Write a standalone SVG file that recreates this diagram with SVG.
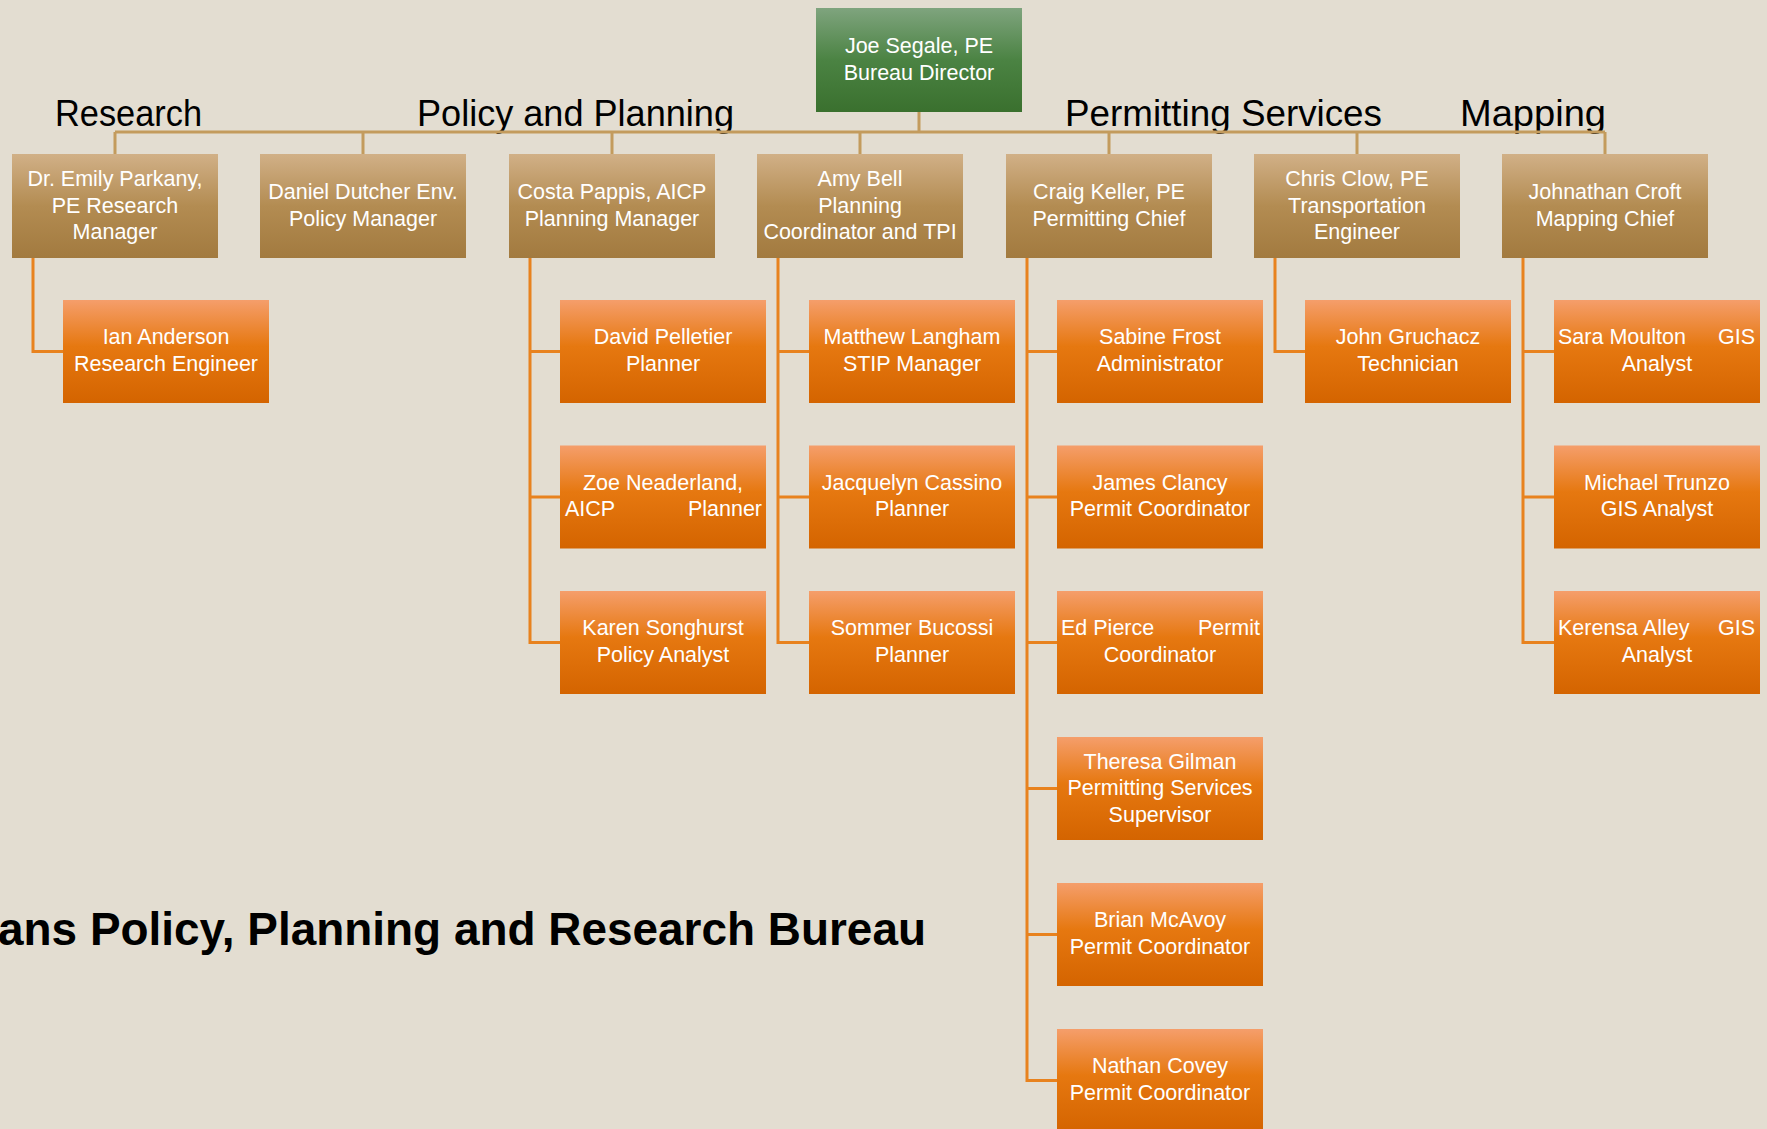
<svg xmlns="http://www.w3.org/2000/svg" width="1767" height="1129" viewBox="0 0 1767 1129">
<defs>
<linearGradient id="gRoot" x1="0" y1="0" x2="0" y2="1">
<stop offset="0" stop-color="#7FA47E"/><stop offset="0.5" stop-color="#4B8343"/><stop offset="1" stop-color="#3A702E"/>
</linearGradient>
<linearGradient id="gMgr" x1="0" y1="0" x2="0" y2="1">
<stop offset="0" stop-color="#D1B087"/><stop offset="0.5" stop-color="#B38C52"/><stop offset="1" stop-color="#A27A3F"/>
</linearGradient>
<linearGradient id="gChild" x1="0" y1="0" x2="0" y2="1">
<stop offset="0" stop-color="#F59E6B"/><stop offset="0.45" stop-color="#E67810"/><stop offset="1" stop-color="#D46400"/>
</linearGradient>
<style>
.root{fill:url(#gRoot)}
.mgr{fill:url(#gMgr)}
.ch{fill:url(#gChild)}
.t{fill:#FFFFFF;font-family:"Liberation Sans",Arial,sans-serif;font-size:21.5px;text-anchor:middle}
.h{fill:#000000;font-family:"Liberation Sans",Arial,sans-serif;font-size:36px}
.title{fill:#000000;font-family:"Liberation Sans",Arial,sans-serif;font-size:47px;font-weight:bold}
.bus{fill:none;stroke:#C39B5D;stroke-width:3}
.cl{fill:none;stroke:#E8821E;stroke-width:3}
</style>
</defs>
<rect x="0" y="0" width="1767" height="1129" fill="#E3DDD1"/>

<g id="headings">
<text class="h" x="55" y="126" textLength="147" lengthAdjust="spacingAndGlyphs">Research</text>
<text class="h" x="417" y="126" textLength="317" lengthAdjust="spacingAndGlyphs">Policy and Planning</text>
<text class="h" x="1065" y="126" textLength="317" lengthAdjust="spacingAndGlyphs">Permitting Services</text>
<text class="h" x="1460" y="126" textLength="146" lengthAdjust="spacingAndGlyphs">Mapping</text>
</g>

<g id="connectors">
<path class="bus" d="M919 112V132M115 132H1605M115 132V154M363 132V154M612 132V154M860 132V154M1109 132V154M1357 132V154M1605 132V154"/>
<path class="cl" d="M33 258V351.5H63"/>
<path class="cl" d="M530 258V642.5H560M530 351.5H560M530 497H560"/>
<path class="cl" d="M778 258V642.5H809M778 351.5H809M778 497H809"/>
<path class="cl" d="M1027 258V1080.5H1057M1027 351.5H1057M1027 497H1057M1027 642.5H1057M1027 788.5H1057M1027 934.5H1057"/>
<path class="cl" d="M1275 258V351.5H1305"/>
<path class="cl" d="M1523 258V642.5H1554M1523 351.5H1554M1523 497H1554"/>
</g>

<g id="n-joe"><rect class="root" x="816" y="8" width="206" height="104"/>
<text class="t" x="919" y="53.3">Joe Segale, PE</text><text class="t" x="919" y="80">Bureau Director</text></g>

<g id="n-emily"><rect class="mgr" x="12" y="154" width="206" height="104"/>
<text class="t" x="115" y="186">Dr. Emily Parkany,</text><text class="t" x="115" y="212.5">PE Research</text><text class="t" x="115" y="239">Manager</text></g>
<g id="n-daniel"><rect class="mgr" x="260" y="154" width="206" height="104"/>
<text class="t" x="363" y="199.3">Daniel Dutcher Env.</text><text class="t" x="363" y="226">Policy Manager</text></g>
<g id="n-costa"><rect class="mgr" x="509" y="154" width="206" height="104"/>
<text class="t" x="612" y="199.3">Costa Pappis, AICP</text><text class="t" x="612" y="226">Planning Manager</text></g>
<g id="n-amy"><rect class="mgr" x="757" y="154" width="206" height="104"/>
<text class="t" x="860" y="186">Amy Bell</text><text class="t" x="860" y="212.5">Planning</text><text class="t" x="860" y="239">Coordinator and TPI</text></g>
<g id="n-craig"><rect class="mgr" x="1006" y="154" width="206" height="104"/>
<text class="t" x="1109" y="199.3">Craig Keller, PE</text><text class="t" x="1109" y="226">Permitting Chief</text></g>
<g id="n-chris"><rect class="mgr" x="1254" y="154" width="206" height="104"/>
<text class="t" x="1357" y="186">Chris Clow, PE</text><text class="t" x="1357" y="212.5">Transportation</text><text class="t" x="1357" y="239">Engineer</text></g>
<g id="n-johnathan"><rect class="mgr" x="1502" y="154" width="206" height="104"/>
<text class="t" x="1605" y="199.3">Johnathan Croft</text><text class="t" x="1605" y="226">Mapping Chief</text></g>

<g id="n-ian"><rect class="ch" x="63" y="300" width="206" height="103"/>
<text class="t" x="166" y="344.2">Ian Anderson</text><text class="t" x="166" y="370.7">Research Engineer</text></g>

<g id="n-david"><rect class="ch" x="560" y="300" width="206" height="103"/>
<text class="t" x="663" y="344.2">David Pelletier</text><text class="t" x="663" y="370.7">Planner</text></g>
<g id="n-zoe"><rect class="ch" x="560" y="445.5" width="206" height="103"/>
<text class="t" x="663" y="489.7">Zoe Neaderland,</text><text class="t"><tspan x="565" y="516.2" text-anchor="start">AICP</tspan><tspan x="762" y="516.2" text-anchor="end">Planner</tspan></text></g>
<g id="n-karen"><rect class="ch" x="560" y="591" width="206" height="103"/>
<text class="t" x="663" y="635.2">Karen Songhurst</text><text class="t" x="663" y="661.7">Policy Analyst</text></g>

<g id="n-matthew"><rect class="ch" x="809" y="300" width="206" height="103"/>
<text class="t" x="912" y="344.2">Matthew Langham</text><text class="t" x="912" y="370.7">STIP Manager</text></g>
<g id="n-jacquelyn"><rect class="ch" x="809" y="445.5" width="206" height="103"/>
<text class="t" x="912" y="489.7">Jacquelyn Cassino</text><text class="t" x="912" y="516.2">Planner</text></g>
<g id="n-sommer"><rect class="ch" x="809" y="591" width="206" height="103"/>
<text class="t" x="912" y="635.2">Sommer Bucossi</text><text class="t" x="912" y="661.7">Planner</text></g>

<g id="n-sabine"><rect class="ch" x="1057" y="300" width="206" height="103"/>
<text class="t" x="1160" y="344.2">Sabine Frost</text><text class="t" x="1160" y="370.7">Administrator</text></g>
<g id="n-james"><rect class="ch" x="1057" y="445.5" width="206" height="103"/>
<text class="t" x="1160" y="489.7">James Clancy</text><text class="t" x="1160" y="516.2">Permit Coordinator</text></g>
<g id="n-ed"><rect class="ch" x="1057" y="591" width="206" height="103"/>
<text class="t"><tspan x="1061" y="635.2" text-anchor="start">Ed Pierce</tspan><tspan x="1260" y="635.2" text-anchor="end">Permit</tspan></text><text class="t" x="1160" y="661.7">Coordinator</text></g>
<g id="n-theresa"><rect class="ch" x="1057" y="737" width="206" height="103"/>
<text class="t" x="1160" y="768.5">Theresa Gilman</text><text class="t" x="1160" y="795">Permitting Services</text><text class="t" x="1160" y="821.5">Supervisor</text></g>
<g id="n-brian"><rect class="ch" x="1057" y="883" width="206" height="103"/>
<text class="t" x="1160" y="927.2">Brian McAvoy</text><text class="t" x="1160" y="953.7">Permit Coordinator</text></g>
<g id="n-nathan"><rect class="ch" x="1057" y="1029" width="206" height="103"/>
<text class="t" x="1160" y="1073.2">Nathan Covey</text><text class="t" x="1160" y="1099.7">Permit Coordinator</text></g>

<g id="n-john"><rect class="ch" x="1305" y="300" width="206" height="103"/>
<text class="t" x="1408" y="344.2">John Gruchacz</text><text class="t" x="1408" y="370.7">Technician</text></g>

<g id="n-sara"><rect class="ch" x="1554" y="300" width="206" height="103"/>
<text class="t"><tspan x="1558" y="344.2" text-anchor="start">Sara Moulton</tspan><tspan x="1755" y="344.2" text-anchor="end">GIS</tspan></text><text class="t" x="1657" y="370.7">Analyst</text></g>
<g id="n-michael"><rect class="ch" x="1554" y="445.5" width="206" height="103"/>
<text class="t" x="1657" y="489.7">Michael Trunzo</text><text class="t" x="1657" y="516.2">GIS Analyst</text></g>
<g id="n-kerensa"><rect class="ch" x="1554" y="591" width="206" height="103"/>
<text class="t"><tspan x="1558" y="635.2" text-anchor="start">Kerensa Alley</tspan><tspan x="1755" y="635.2" text-anchor="end">GIS</tspan></text><text class="t" x="1657" y="661.7">Analyst</text></g>

<g id="title">
<text class="title" x="-2" y="945" textLength="928" lengthAdjust="spacingAndGlyphs">ans Policy, Planning and Research Bureau</text>
</g>
</svg>
